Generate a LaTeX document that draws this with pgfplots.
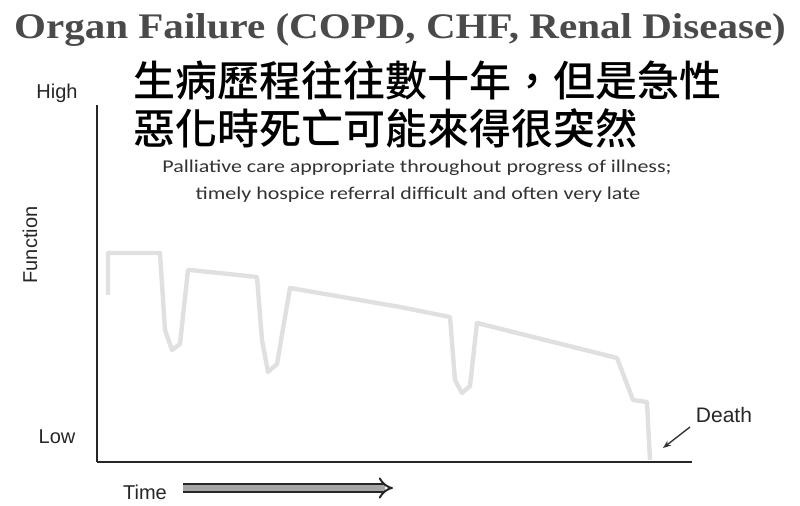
\documentclass[border=0pt]{standalone}
\usepackage{pgfplots}
\pgfplotsset{compat=1.18}
\usepackage{fontspec}
\setmainfont{Liberation Sans}
\newfontfamily\titlefont{Liberation Serif}
\newfontfamily\calib{Carlito}
\newfontfamily\cjk{Noto Sans CJK TC}[UprightFont={* Medium}]
\usetikzlibrary{arrows.meta}
\definecolor{titlegray}{HTML}{4A4A4A}
\definecolor{textgray}{HTML}{333333}
\definecolor{curvegray}{HTML}{E0E0E0}

% function curve (x: time, y: function)
\pgfplotstableread{
x   y
11  167
11  209
63  209
68  132
75  112
83  118
91  192
93  192
160 185
165 122
171 90
180 98
193 174
303 155
353 145
358 82
365 69
373 76
380 139
520 104
536 62
550 60
553 2
}\curve

\begin{document}
\begin{tikzpicture}
\useasboundingbox (0,0) rectangle (400pt,252.5pt);
\begin{axis}[
    at={(48.5pt,21.5pt)}, anchor=south west,
    scale only axis,
    width=297.5pt, height=178.5pt,
    xmin=0, xmax=595, ymin=0, ymax=357,
    axis lines=left,
    axis line style={-, line width=1.1pt, black!85},
    xtick=\empty, ytick=\empty,
    clip=false
]
\addplot[curvegray, line width=2.2pt, line join=round] table {\curve};
\end{axis}
\begin{scope}[x=0.5pt, y=0.5pt]
\node[text=titlegray, xscale=1.14, font=\titlefont\bfseries\fontsize{18}{20}\selectfont] at (400,475) {Organ Failure (COPD, CHF, Renal Disease)};
\node[anchor=west, inner sep=0, font=\cjk\fontsize{21}{24}\selectfont] at (133,425) {生病歷程往往數十年，但是急性};
\node[anchor=west, inner sep=0, font=\cjk\fontsize{21}{24}\selectfont] at (133,377) {惡化時死亡可能來得很突然};
\node[text=textgray, xscale=1.22, font=\calib\fontsize{9}{10}\selectfont] at (417,337) {Palliative care appropriate throughout progress of illness;};
\node[text=textgray, xscale=1.22, font=\calib\fontsize{9}{10}\selectfont] at (418,310) {timely hospice referral difficult and often very late};
\node[text=black!85, font=\fontsize{10}{12}\selectfont] at (57,412) {High};
\node[text=black!85, font=\fontsize{10}{12}\selectfont] at (57,68) {Low};
\node[text=black!85, rotate=90, font=\fontsize{10}{12}\selectfont] at (30,260) {Function};
\node[text=black!85, font=\fontsize{10}{12}\selectfont] at (145,13) {Time};
\node[text=black!85, font=\fontsize{10.5}{12}\selectfont] at (724,90) {Death};
\draw[black!80, line width=0.7pt, -{Stealth[length=4pt]}] (690,78) -- (663,57);
\draw[black!85, double=black!35, double distance=2.6pt, line width=1pt, -{Implies[length=6pt]}] (183,17) -- (393,17);
\end{scope}
\end{tikzpicture}
\end{document}
